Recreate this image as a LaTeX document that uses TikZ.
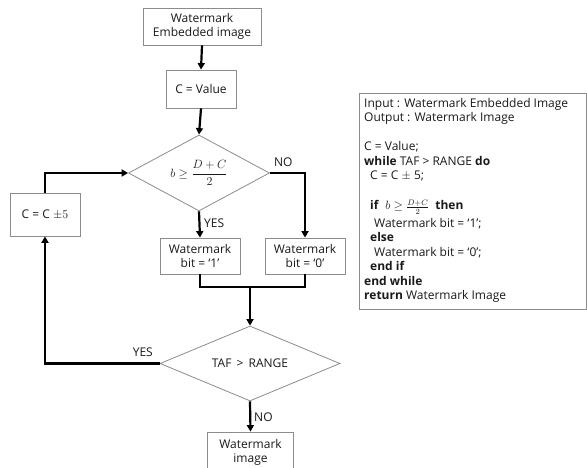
\documentclass[tikz,border=0pt]{standalone}
\usepackage{fontspec}
\setmainfont{Open Sans}
\usetikzlibrary{shapes.geometric,arrows.meta}
\definecolor{boxgray}{HTML}{8C8C8C}
\definecolor{ink}{HTML}{1A1A1A}
\begin{document}
\begin{tikzpicture}[x=1pt,y=-1pt,
  box/.style={draw=boxgray,line width=0.8pt,fill=white,align=center,inner sep=1pt,
    font=\fontsize{12}{14}\selectfont,text=ink},
  dia/.style={draw=boxgray,line width=0.8pt,shape=diamond,inner sep=0pt,aspect=2,
    font=\fontsize{12}{14}\selectfont,text=ink},
  flow/.style={line width=2.2pt,-{Triangle[length=6.5pt,width=7pt]}},
  link/.style={line width=2.2pt},
  lbl/.style={font=\fontsize{12}{13}\selectfont,text=ink,inner sep=0pt},
  code/.style={anchor=base west,inner sep=0pt,font=\fontsize{12}{13}\selectfont,text=ink}]
\useasboundingbox (0,0) rectangle (587,468);
\clip (0,0) rectangle (587,468);
\fill[white] (0,0) rectangle (587,468);

% flowchart nodes
\node[box,minimum width=118pt,minimum height=37pt] (emb) at (202,26.5) {Watermark\\Embedded image};
\node[box,minimum width=70pt,minimum height=38pt] (cval) at (201,89) {C = Value};
\node[dia,minimum width=141pt,minimum height=76pt] (d1) at (199,173) {$\displaystyle b \geq \frac{D+C}{2}$};
\node[box,minimum width=70pt,minimum height=43pt] (cpm) at (45,214.5) {C = C $\pm 5$};
\node[box,minimum width=80pt,minimum height=36pt] (w1) at (200,256) {Watermark\\bit = `1'};
\node[box,minimum width=80pt,minimum height=36pt] (w0) at (305,256) {Watermark\\bit = `0'};
\node[dia,minimum width=180pt,minimum height=75pt] (d2) at (250,363.5) {TAF \,>\, RANGE};
\node[box,minimum width=86pt,minimum height=40pt] (wi) at (250.5,452) {Watermark\\image};
\coordinate (m) at (250,287);

% connectors
\draw[flow] (emb.south) -- (cval.north);
\draw[flow] (cval.south) -- (d1.north);
\draw[flow] (d1.south) -- (w1.north);
\draw[flow] (d1.east) -| (w0.north);
\draw[flow] (cpm.north) |- (d1.west);
\draw[link] (w1.south) |- (m) -| (w0.south);
\draw[flow] (m) -- (d2.north);
\draw[flow] (d2.west) -| (cpm.south);
\draw[flow] (d2.south) -- (wi.north);

% labels
\node[lbl,anchor=west] (yes1) at (204,223) {YES};
\node[lbl,anchor=west] (no1) at (274,162) {NO};
\node[lbl,anchor=east] (yes2) at (153,352) {YES};
\node[lbl,anchor=west] (no2) at (254,417) {NO};

% algorithm box
\draw[boxgray,line width=0.8pt] (359,93) rectangle (586,309);
\node[code] (a1) at (364,108) {Input : Watermark Embedded Image};
\node[code] (a2) at (364,122) {Output : Watermark Image};
\node[code] (a3) at (364,151) {C = Value;};
\node[code] (a4) at (364,165.3) {\textbf{while} TAF > RANGE \textbf{do}};
\node[code] (a5) at (370,179.6) {C = C $\pm$ 5;};
\node[code] (a6) at (370,210) {\textbf{if} \ $b \geq \frac{D+C}{2}$ \ \textbf{then}};
\node[code] (a7) at (374,227.5) {Watermark bit = `1';};
\node[code] (a8) at (370,241.5) {\textbf{else}};
\node[code] (a9) at (374,256) {Watermark bit = `0';};
\node[code] (a10) at (370,270.5) {\textbf{end if}};
\node[code] (a11) at (364,285) {\textbf{end while}};
\node[code] (a12) at (364,299.3) {\textbf{return} Watermark Image};
\end{tikzpicture}
\end{document}
